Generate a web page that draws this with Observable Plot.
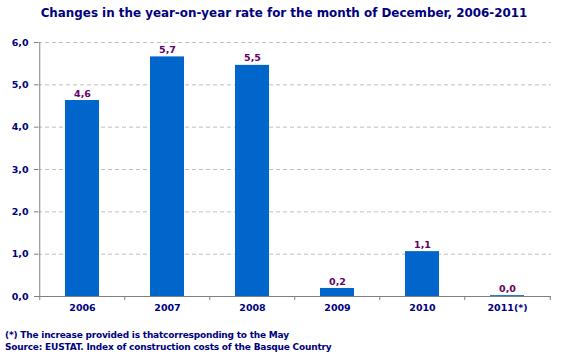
<!DOCTYPE html>
<html><head><meta charset="utf-8">
<script src="https://cdn.jsdelivr.net/npm/d3@7"></script>
<script src="https://cdn.jsdelivr.net/npm/@observablehq/plot@0.6"></script>
<style>
body{margin:0;background:#fff;width:568px;height:359px;overflow:hidden;font-family:"DejaVu Sans",sans-serif;}
#title{height:30px;box-sizing:border-box;padding-top:6px;text-align:center;color:#000080;font-size:11.9px;font-weight:bold;line-height:14px;}
#caption{padding-top:9px;padding-left:5px;color:#000080;font-size:9px;font-weight:bold;line-height:12px;letter-spacing:-0.2px;}
</style>
</head><body>
<div id="title">Changes in the year-on-year rate for the month of December, 2006-2011</div>
<div id="chart"></div>
<div id="caption"><div>(*) The increase provided is thatcorresponding to the May</div><div>Source: EUSTAT. Index of construction costs of the Basque Country</div></div>
<script>
const years = ["2006","2007","2008","2009","2010","2011(*)"];
const rates = [4.63, 5.66, 5.46, 0.19, 1.06, 0.02];
const rateLabels = ["4,6","5,7","5,5","0,2","1,1","0,0"];
const yTicks = [0,1,2,3,4,5,6];

const data = years.map((y,i)=>({year:y, rate:rates[i], label:rateLabels[i]}));
const W = 568, ML = 38, MR = 17;
const step = (W-ML-MR)/years.length;
const fmt = d => d.toFixed(1).replace(".", ",");
const gray = "#808080";

const chart = Plot.plot({
  width: W, height: 290, marginLeft: ML, marginRight: MR, marginTop: 12, marginBottom: 24,
  style: {fontFamily: "DejaVu Sans", fontSize: "9.5px", fontWeight: "bold", background: "white", overflow: "visible"},
  x: {domain: years, paddingInner: 0.6, paddingOuter: 0.3, axis: null},
  y: {domain: [0, 6], axis: null},
  marks: [
    Plot.gridY(yTicks.filter(d => d > 0), {stroke: "#c0c0c0", strokeOpacity: 1, strokeDasharray: "4,3"}),
    Plot.barY(data, {x: "year", y: "rate", fill: "#0066cc"}),
    Plot.text(data, {x: "year", y: "rate", text: "label", dy: -7, fill: "#660066"}),
    Plot.ruleY([0], {stroke: gray}),
    Plot.ruleX([years[0]], {y1: () => 0, y2: () => 6, dx: -step/2, stroke: gray}),
    Plot.ruleX(years, {x: d => d, y1: () => 0, y2: () => 0, insetBottom: -4, dx: -step/2, stroke: gray}),
    Plot.ruleX([years[years.length-1]], {x: d => d, y1: () => 0, y2: () => 0, insetBottom: -4, dx: step/2, stroke: gray}),
    Plot.axisY({ticks: yTicks, tickFormat: fmt, tickSize: 4, tickPadding: 6, stroke: gray, fill: "#000080", strokeOpacity: 1, label: null}),
    Plot.axisX({tickSize: 0, tickPadding: 8, fill: "#000080", label: null})
  ]
});
document.getElementById("chart").appendChild(chart);
</script>
</body></html>
